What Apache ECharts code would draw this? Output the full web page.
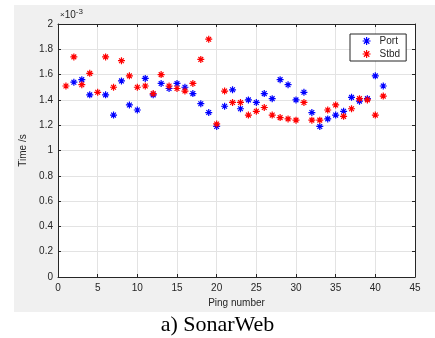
<!DOCTYPE html>
<html>
<head>
<meta charset="utf-8">
<script src="https://cdn.jsdelivr.net/npm/echarts@6/dist/echarts.min.js"></script>
<style>
html,body{margin:0;padding:0;background:#fff;}
#chart{width:435px;height:338px;}
</style>
</head>
<body>
<div id="chart"></div>
<script>
// values, time in units of 1e-3 s
var pingPort = [2,3,4,6,7,8,9,10,11,12,13,14,15,16,17,18,19,20,21,22,23,24,25,26,27,28,29,30,31,32,33,34,35,36,37,38,39,40,41];
var timePort = [1.54,1.56,1.44,1.44,1.28,1.55,1.36,1.32,1.57,1.44,1.53,1.49,1.53,1.50,1.45,1.37,1.30,1.19,1.35,1.48,1.33,1.40,1.38,1.45,1.41,1.56,1.52,1.40,1.46,1.30,1.19,1.25,1.28,1.31,1.42,1.39,1.41,1.59,1.51];
var pingStbd = [1,2,3,4,5,6,7,8,9,10,11,12,13,14,15,16,17,18,19,20,21,22,23,24,25,26,27,28,29,30,31,32,33,34,35,36,37,38,39,40,41];
var timeStbd = [1.51,1.74,1.52,1.61,1.46,1.74,1.50,1.71,1.59,1.50,1.51,1.45,1.60,1.51,1.49,1.47,1.53,1.72,1.88,1.21,1.47,1.38,1.38,1.28,1.31,1.34,1.28,1.26,1.25,1.24,1.38,1.24,1.24,1.32,1.36,1.27,1.33,1.41,1.40,1.28,1.43];
var seriesNames = ['Port','Stbd'];
var seriesColors = ['#0000ff','#ff0000'];

var star = 'path://M0,5L10,5M5,0L5,10M1.6,1.6L8.4,8.4M8.4,1.6L1.6,8.4';
var axisCol = '#262626';
var font = 'Liberation Sans, Arial, sans-serif';

function pairs(xs, ys){
	var out = [];
	for(var i = 0; i < xs.length; i++){
		out.push([xs[i], ys[i]]);
	}
	return out;
}
function starStyle(col){
	return {color: 'rgba(0,0,0,0)', borderColor: col, borderWidth: 1.2, opacity: 1};
}

var chart = echarts.init(document.getElementById('chart'));
var option = {
	animation: false,
	graphic: [
		{type:'rect', z:-10, shape:{x:14, y:5, width:421, height:307}, style:{fill:'#f0f0f0'}},
		{type:'text', left:60, top:8, style:{
			text:'{a|×}{b|10}{c|-3}', rich:{
				a:{fontSize:8, fontFamily:font, fill:axisCol},
				b:{fontSize:10, fontFamily:font, fill:axisCol},
				c:{fontSize:8, fontFamily:font, fill:axisCol, verticalAlign:'top', padding:[0,0,6,0]}
			}
		}},
		{type:'text', left:'center', top:314, style:{
			text:'a) SonarWeb', font:'22px "Liberation Serif", "Times New Roman", serif', fill:'#000'
		}}
	],
	grid: {
		left: 58, right: 20, top: 24, bottom: 61,
		show: true, backgroundColor: '#fff', borderWidth: 0
	},
	legend: {
		orient: 'vertical',
		left: 350, top: 34,
		backgroundColor: '#fff',
		borderColor: axisCol, borderWidth: 1,
		padding: [2, 6, 2, 12],
		itemWidth: 8, itemHeight: 8, itemGap: 3,
		textStyle: {fontSize: 10, fontFamily: font, color: axisCol, padding:[0,0,0,4], lineHeight: 10},
		data: [
			{name: seriesNames[0], icon: star, itemStyle: starStyle(seriesColors[0])},
			{name: seriesNames[1], icon: star, itemStyle: starStyle(seriesColors[1])}
		]
	},
	xAxis: [{
		type: 'value', min: 0, max: 45, interval: 5,
		name: 'Ping number', nameLocation: 'middle', nameGap: 20,
		nameTextStyle: {fontSize: 10, fontFamily: font, color: axisCol},
		axisLine: {show: true, lineStyle: {color: axisCol}},
		axisTick: {show: true, inside: true, length: 3, lineStyle: {color: axisCol}},
		axisLabel: {fontSize: 10, fontFamily: font, color: axisCol, margin: 6},
		splitLine: {show: true, lineStyle: {color: '#e3e3e3'}}
	}, {
		type: 'value', min: 0, max: 45, interval: 5, position: 'top',
		axisLine: {show: true, onZero: false, lineStyle: {color: axisCol}},
		axisTick: {show: true, inside: true, length: 3, lineStyle: {color: axisCol}},
		axisLabel: {show: false}, splitLine: {show: false}
	}],
	yAxis: [{
		type: 'value', min: 0, max: 2, interval: 0.2,
		name: 'Time /s', nameLocation: 'middle', nameGap: 24, nameRotate: 90,
		nameTextStyle: {fontSize: 10, fontFamily: font, color: axisCol},
		axisLine: {show: true, lineStyle: {color: axisCol}},
		axisTick: {show: true, inside: true, length: 3, lineStyle: {color: axisCol}},
		axisLabel: {fontSize: 10, fontFamily: font, color: axisCol, margin: 5,
			formatter: function(v){ return String(+v.toFixed(1)); }},
		splitLine: {show: true, lineStyle: {color: '#e3e3e3'}}
	}, {
		type: 'value', min: 0, max: 2, interval: 0.2, position: 'right',
		axisLine: {show: true, onZero: false, lineStyle: {color: axisCol}},
		axisTick: {show: true, inside: true, length: 3, lineStyle: {color: axisCol}},
		axisLabel: {show: false}, splitLine: {show: false}
	}],
	series: [{
		name: seriesNames[0], type: 'scatter', symbol: star, symbolSize: 7,
		itemStyle: starStyle(seriesColors[0]),
		data: pairs(pingPort, timePort)
	}, {
		name: seriesNames[1], type: 'scatter', symbol: star, symbolSize: 7,
		itemStyle: starStyle(seriesColors[1]),
		data: pairs(pingStbd, timeStbd)
	}]
};
chart.setOption(option);
</script>
</body>
</html>
